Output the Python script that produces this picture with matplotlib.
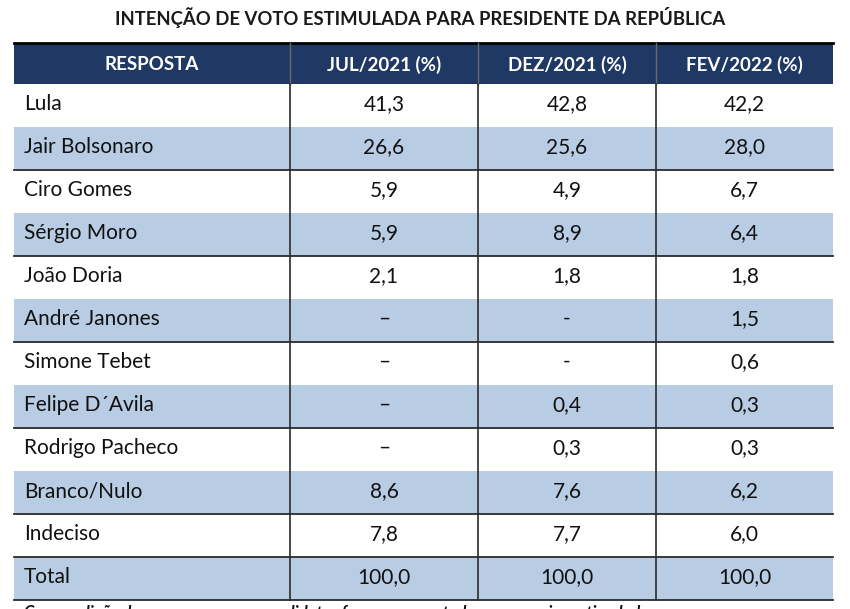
import matplotlib.pyplot as plt
from matplotlib.patches import Rectangle

plt.rcParams['font.family'] = ['Lato', 'DejaVu Sans']

title = 'INTENÇÃO DE VOTO ESTIMULADA PARA PRESIDENTE DA REPÚBLICA'
headers = ['RESPOSTA', 'JUL/2021 (%)', 'DEZ/2021 (%)', 'FEV/2022 (%)']
respostas = ['Lula', 'Jair Bolsonaro', 'Ciro Gomes', 'Sérgio Moro', 'João Doria',
             'André Janones', 'Simone Tebet', 'Felipe D´Avila', 'Rodrigo Pacheco',
             'Branco/Nulo', 'Indeciso', 'Total']
jul_2021 = ['41,3', '26,6', '5,9', '5,9', '2,1', '–', '–', '–', '–', '8,6', '7,8', '100,0']
dez_2021 = ['42,8', '25,6', '4,9', '8,9', '1,8', '-', '-', '0,4', '0,3', '7,6', '7,7', '100,0']
fev_2022 = ['42,2', '28,0', '6,7', '6,4', '1,8', '1,5', '0,6', '0,3', '0,3', '6,2', '6,0', '100,0']

header_col = '#1f3864'
shade_col = '#b8cce4'
line_col = '#2b2b2b'

# table geometry in pixels
col_x = [14, 290, 478, 656, 833]
head_top, head_bot = 43, 84
row_h = (600 - head_bot) / len(respostas)

fig = plt.figure(figsize=(8.5, 6.09), dpi=100)
ax = fig.add_axes([0, 0, 1, 1])
ax.set_xlim(0, 850)
ax.set_ylim(609, 0)
ax.axis('off')

ax.text(420, 17, title, ha='center', va='center', fontsize=13.3,
        fontweight='bold', color='#1a1a1a')

# header
ax.add_patch(Rectangle((col_x[0], head_top), col_x[-1] - col_x[0], head_bot - head_top,
                       facecolor=header_col, edgecolor='none'))
ax.plot([col_x[0], col_x[-1]], [head_top, head_top], color='black', lw=2)
for i, h in enumerate(headers):
    cx = (col_x[i] + col_x[i + 1]) / 2
    ax.text(cx, (head_top + head_bot) / 2 + 1, h, ha='center', va='center',
            fontsize=13.5, fontweight='bold', color='white')
for x in col_x[1:-1]:
    ax.plot([x, x], [head_top, head_bot], color='#6a6a6a', lw=1)

# body rows
columns = [jul_2021, dez_2021, fev_2022]
for r, name in enumerate(respostas):
    top = head_bot + r * row_h
    bot = top + row_h
    shaded = r % 2 == 1
    if shaded:
        ax.add_patch(Rectangle((col_x[0], top), col_x[-1] - col_x[0], row_h,
                               facecolor=shade_col, edgecolor='none'))
        ax.plot([col_x[0], col_x[-1]], [bot, bot], color=line_col, lw=1.3)
    ymid = top + row_h / 2 - 1.5
    ax.text(col_x[0] + 10, ymid, name, ha='left', va='center',
            fontsize=15, color='#111111')
    for c, vals in enumerate(columns):
        cx = (col_x[c + 1] + col_x[c + 2]) / 2
        ax.text(cx, ymid, vals[r], ha='center', va='center',
                fontsize=15, color='#111111')

# line above total
total_top = head_bot + (len(respostas) - 1) * row_h
ax.plot([col_x[0], col_x[-1]], [total_top, total_top], color=line_col, lw=1.3)

for x in col_x[1:-1]:
    ax.plot([x, x], [head_bot, 600], color=line_col, lw=1.2)

# footnote, cut off by the image edge as in the source
ax.text(24, 605, 'Com a adição de novos nomes, os candidatos foram apresentados na pesquisa estimulada',
        ha='left', va='top', fontsize=12, fontweight='bold', fontstyle='italic', color='#111111')

fig.savefig('out.png', dpi=100)
